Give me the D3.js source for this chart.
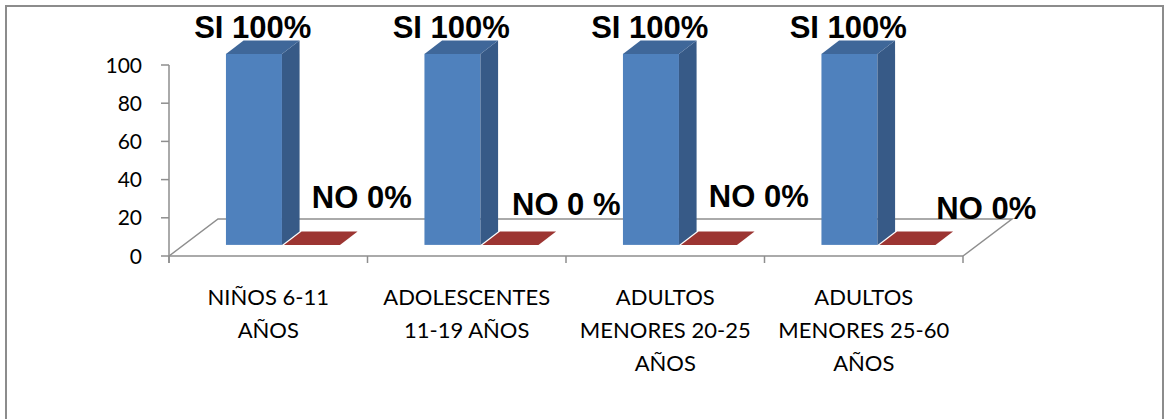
<!DOCTYPE html>
<html>
<head>
<meta charset="utf-8">
<script src="https://cdn.jsdelivr.net/npm/d3@7"></script>
<style>
  html, body { margin: 0; padding: 0; background: #fff; }
  svg { display: block; }
</style>
</head>
<body>
<svg id="chart" width="1166" height="419"></svg>
<script>
// ---- data ----
const categories = [
  "NIÑOS 6-11\nAÑOS",
  "ADOLESCENTES\n11-19 AÑOS",
  "ADULTOS\nMENORES 20-25\nAÑOS",
  "ADULTOS\nMENORES 25-60\nAÑOS"
];
const seriesNames = ["SI", "NO"];
const siValues = [100, 100, 100, 100];
const noValues = [0, 0, 0, 0];
const siLabels = ["SI 100%", "SI 100%", "SI 100%", "SI 100%"];
const noLabels = ["NO 0%", "NO 0 %", "NO 0%", "NO 0%"];
const yTicks = [0, 20, 40, 60, 80, 100];

// ---- layout / style ----
const svg = d3.select("#chart");
const plot = { left: 169, right: 963, top: 65, bottom: 256 };
const depth = [49, -37];           // floor depth vector
const tFront = 0.30, tBack = 0.66; // bar position within depth
const barW = 56, barGap = 2;
const colors = {
  SI: { front: "#4F81BD", side: "#375A87", top: "#3F6799" },
  NO: { front: "#C0504D", side: "#8C3836", top: "#9C3532" }
};
const axisColor = "#8e8e8e";
const catFont = "Lato, 'Open Sans', sans-serif";
const labelFont = "'Liberation Sans', Arial, sans-serif";
// label nudges (px) relative to the top face of each bar
const siNudge = [-10, -3];
const noNudge = [[41, -30], [47, -23], [41, -31], [70, -19]];

// outer frame
svg.append("rect")
  .attr("x", 6).attr("y", 6).attr("width", 1157).attr("height", 420)
  .attr("fill", "#fff").attr("stroke", "#8c8c8c").attr("stroke-width", 2);

const x = d3.scaleBand().domain(categories).range([plot.left, plot.right]).paddingInner(0).paddingOuter(0);
const y = d3.scaleLinear().domain([0, 100]).range([plot.bottom, plot.top]);
const sub = d3.scaleBand().domain(seriesNames).range([-(barW + barGap / 2), barW + barGap / 2]).paddingInner(barGap / (barW + barGap)).paddingOuter(0);

// floor
svg.append("path")
  .attr("d", `M${plot.left},${y(0)} L${plot.left + depth[0]},${y(0) + depth[1]} L${plot.right + depth[0]},${y(0) + depth[1]} L${plot.right},${y(0)}`)
  .attr("fill", "none").attr("stroke", axisColor).attr("stroke-width", 1.5);

// bars
const bars = [];
categories.forEach((c, i) => {
  bars.push({ cat: c, s: "SI", v: siValues[i], i });
  bars.push({ cat: c, s: "NO", v: noValues[i], i });
});

const fx = tFront * depth[0], fy = tFront * depth[1];
const bx = tBack * depth[0], by = tBack * depth[1];

function geom(d) {
  const cx = x(d.cat) + x.bandwidth() / 2;
  const x0 = cx + sub(d.s);
  const x1 = x0 + sub.bandwidth();
  const yt = y(d.v), yb = y(0);
  return { x0, x1, yt, yb };
}

const g = svg.append("g");
bars.forEach(d => {
  const { x0, x1, yt, yb } = geom(d);
  const col = colors[d.s];
  if (yb - yt > 0.5) {
    g.append("rect").attr("x", x0 + fx).attr("y", yt + fy).attr("width", x1 - x0).attr("height", yb - yt)
      .attr("fill", col.front);
    g.append("path").attr("d", `M${x1 + fx},${yt + fy} L${x1 + bx},${yt + by} L${x1 + bx},${yb + by} L${x1 + fx},${yb + fy} Z`)
      .attr("fill", col.side);
  }
  g.append("path").attr("d", `M${x0 + fx},${yt + fy} L${x1 + fx},${yt + fy} L${x1 + bx},${yt + by} L${x0 + bx},${yt + by} Z`)
    .attr("fill", col.top);
});

// y axis
const yAxis = svg.append("g");
yAxis.append("line").attr("x1", plot.left).attr("x2", plot.left).attr("y1", y(100)).attr("y2", y(0) + 7)
  .attr("stroke", axisColor).attr("stroke-width", 1.5);
yTicks.forEach(t => {
  yAxis.append("line").attr("x1", plot.left - 8).attr("x2", plot.left).attr("y1", y(t)).attr("y2", y(t))
    .attr("stroke", axisColor).attr("stroke-width", 1.5);
  yAxis.append("text").attr("x", 142).attr("y", y(t)).attr("dy", "0.36em")
    .attr("text-anchor", "end").attr("font-family", catFont).attr("font-size", 21).attr("fill", "#000")
    .text(t);
});

// x axis
const xAxis = svg.append("g");
xAxis.append("line").attr("x1", plot.left).attr("x2", plot.right).attr("y1", y(0)).attr("y2", y(0))
  .attr("stroke", axisColor).attr("stroke-width", 1.5);
const xTickPos = categories.map(c => x(c)).concat([plot.right]);
xTickPos.forEach(p => {
  xAxis.append("line").attr("x1", p).attr("x2", p).attr("y1", y(0)).attr("y2", y(0) + 7)
    .attr("stroke", axisColor).attr("stroke-width", 1.5);
});
categories.forEach(c => {
  const lines = c.split("\n");
  const t = xAxis.append("text").attr("text-anchor", "middle").attr("font-family", catFont)
    .attr("font-size", 22).attr("fill", "#000");
  lines.forEach((ln, k) => {
    t.append("tspan").attr("x", x(c) + x.bandwidth() / 2).attr("y", 305 + k * 33).text(ln);
  });
});

// data labels
bars.forEach(d => {
  const { x0, x1, yt } = geom(d);
  const topCx = (x0 + fx + x1 + bx) / 2;
  const topCy = (yt + fy + yt + by) / 2;
  let lx, ly, txt;
  if (d.s === "SI") {
    lx = topCx + siNudge[0];
    ly = yt + by + siNudge[1];
    txt = siLabels[d.i];
  } else {
    lx = topCx + noNudge[d.i][0];
    ly = topCy + noNudge[d.i][1];
    txt = noLabels[d.i];
  }
  svg.append("text").attr("x", lx).attr("y", ly).attr("text-anchor", "middle")
    .attr("font-family", labelFont).attr("font-weight", "bold").attr("font-size", 31).attr("fill", "#000")
    .text(txt);
});
</script>
</body>
</html>
